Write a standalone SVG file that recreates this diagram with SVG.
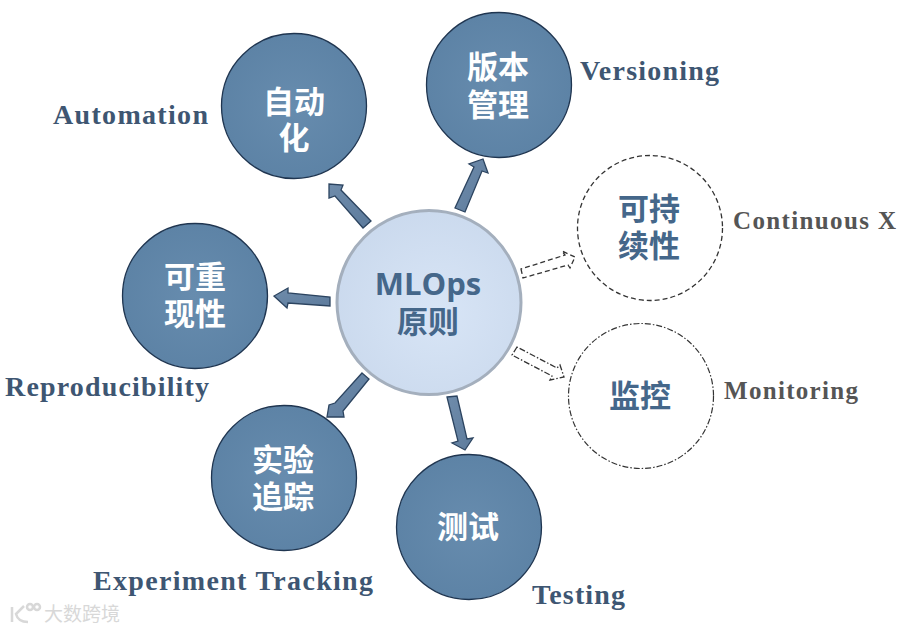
<svg xmlns="http://www.w3.org/2000/svg" width="914" height="632" viewBox="0 0 914 632">
<style>
.n{fill:url(#blue);stroke:#1f3550;stroke-width:1.3}
.t{font-family:"Liberation Sans","Noto Sans CJK SC",sans-serif;font-weight:700;font-size:31px;text-anchor:middle}
.w{fill:#fff}
.d{fill:#45678a}
.l{font-family:"Liberation Serif",serif;font-weight:700;font-size:28px;fill:#3e5672}
.g{fill:#555;font-size:25px}
.a{fill:url(#arr);stroke:#2c4460;stroke-width:1.3;stroke-linejoin:miter}
.o{fill:#fff;stroke:#333;stroke-width:1.3}
</style>
<defs>
<radialGradient id="blue" cx="0.5" cy="0.5" r="0.55"><stop offset="0" stop-color="#678cae"/><stop offset="1" stop-color="#5c82a5"/></radialGradient>
<radialGradient id="core" cx="0.55" cy="0.55" r="0.6"><stop offset="0" stop-color="#d8e5f6"/><stop offset="1" stop-color="#cad9ed"/></radialGradient>
<linearGradient id="arr" x1="0" y1="0" x2="1" y2="1"><stop offset="0" stop-color="#6f8cab"/><stop offset="1" stop-color="#5d7b9c"/></linearGradient>
</defs>
<rect width="914" height="632" fill="#fff"/>
<g id="connectors">
<polygon class="a" points="371,221 363,228 335,196 329,198 329,184 343,185 341,190"/>
<polygon class="a" points="455,208 465,212 482,171 488,173 483,159 469,164 474,167"/>
<polygon class="a" points="330,297 330,306 288,303 287,308 274,296 288,288 288,293"/>
<polygon class="a" points="362,373 369,379 343,411 344,417 327,417 329,405 335,403"/>
<polygon class="a" points="447,397 457,396 467,439 473,438 465,450 452,443 458,441"/>
<polygon class="o" stroke-dasharray="5 3" points="521,269 523,278 568,265 570,268 575,257 562,251 565,255"/>
<polygon class="o" stroke-dasharray="6 2 1.5 2" points="517,347 512,355 552,376 550,380 564,377 560,365 557,368"/>
</g>
<g id="node-automation"><circle class="n" cx="294" cy="106" r="72.5"/><text class="t w"><tspan x="294" y="113">自动</tspan><tspan x="294" y="149">化</tspan></text><text class="l" x="53" y="124" textLength="155">Automation</text></g>
<g id="node-versioning"><circle class="n" cx="499" cy="85" r="72.5"/><text class="t w"><tspan x="498" y="78">版本</tspan><tspan x="498" y="116">管理</tspan></text><text class="l" x="580" y="80" textLength="139">Versioning</text></g>
<g id="node-reproducibility"><circle class="n" cx="195" cy="296" r="72.5"/><text class="t w"><tspan x="195" y="288">可重</tspan><tspan x="195" y="325">现性</tspan></text><text class="l" x="5" y="396" textLength="204">Reproducibility</text></g>
<g id="node-tracking"><circle class="n" cx="284" cy="478" r="72.5"/><text class="t w"><tspan x="283" y="471">实验</tspan><tspan x="283" y="508">追踪</tspan></text><text class="l" x="93" y="590" textLength="280">Experiment Tracking</text></g>
<g id="node-testing"><circle class="n" cx="469" cy="527" r="72.5"/><text class="t w" x="468" y="538">测试</text><text class="l" x="532" y="604" textLength="93">Testing</text></g>
<g id="node-core"><circle cx="429" cy="302.5" r="92" fill="url(#core)" stroke="#a4afbd" stroke-width="3"/><text class="t d"><tspan x="428" y="295" style="font-family:'Open Sans','Noto Sans',sans-serif;font-size:31px">MLOps</tspan><tspan x="428" y="333">原则</tspan></text></g>
<g id="node-continuous"><circle cx="650" cy="228" r="72.5" fill="#fff" stroke="#333" stroke-width="1.3" stroke-dasharray="5 3"/><text class="t d"><tspan x="649" y="220">可持</tspan><tspan x="649" y="257">续性</tspan></text><text class="l g" x="733" y="229" textLength="163">Continuous X</text></g>
<g id="node-monitoring"><circle cx="641" cy="396" r="72.5" fill="#fff" stroke="#333" stroke-width="1.2" stroke-dasharray="6 2 1.5 2"/><text class="t d" x="640" y="407">监控</text><text class="l g" x="724" y="399" textLength="134">Monitoring</text></g>
<g id="watermark"><text x="44" y="621" font-family="'Noto Sans CJK SC',sans-serif" font-size="19" fill="#d8d8d8">大数跨境</text>
<g fill="none" stroke="#d8d8d8" stroke-width="2.5"><path d="M12 607v15M24 606l-8 8q2 8 12 8"/><circle cx="30" cy="607" r="3"/><circle cx="37" cy="607" r="3"/></g></g>
</svg>
